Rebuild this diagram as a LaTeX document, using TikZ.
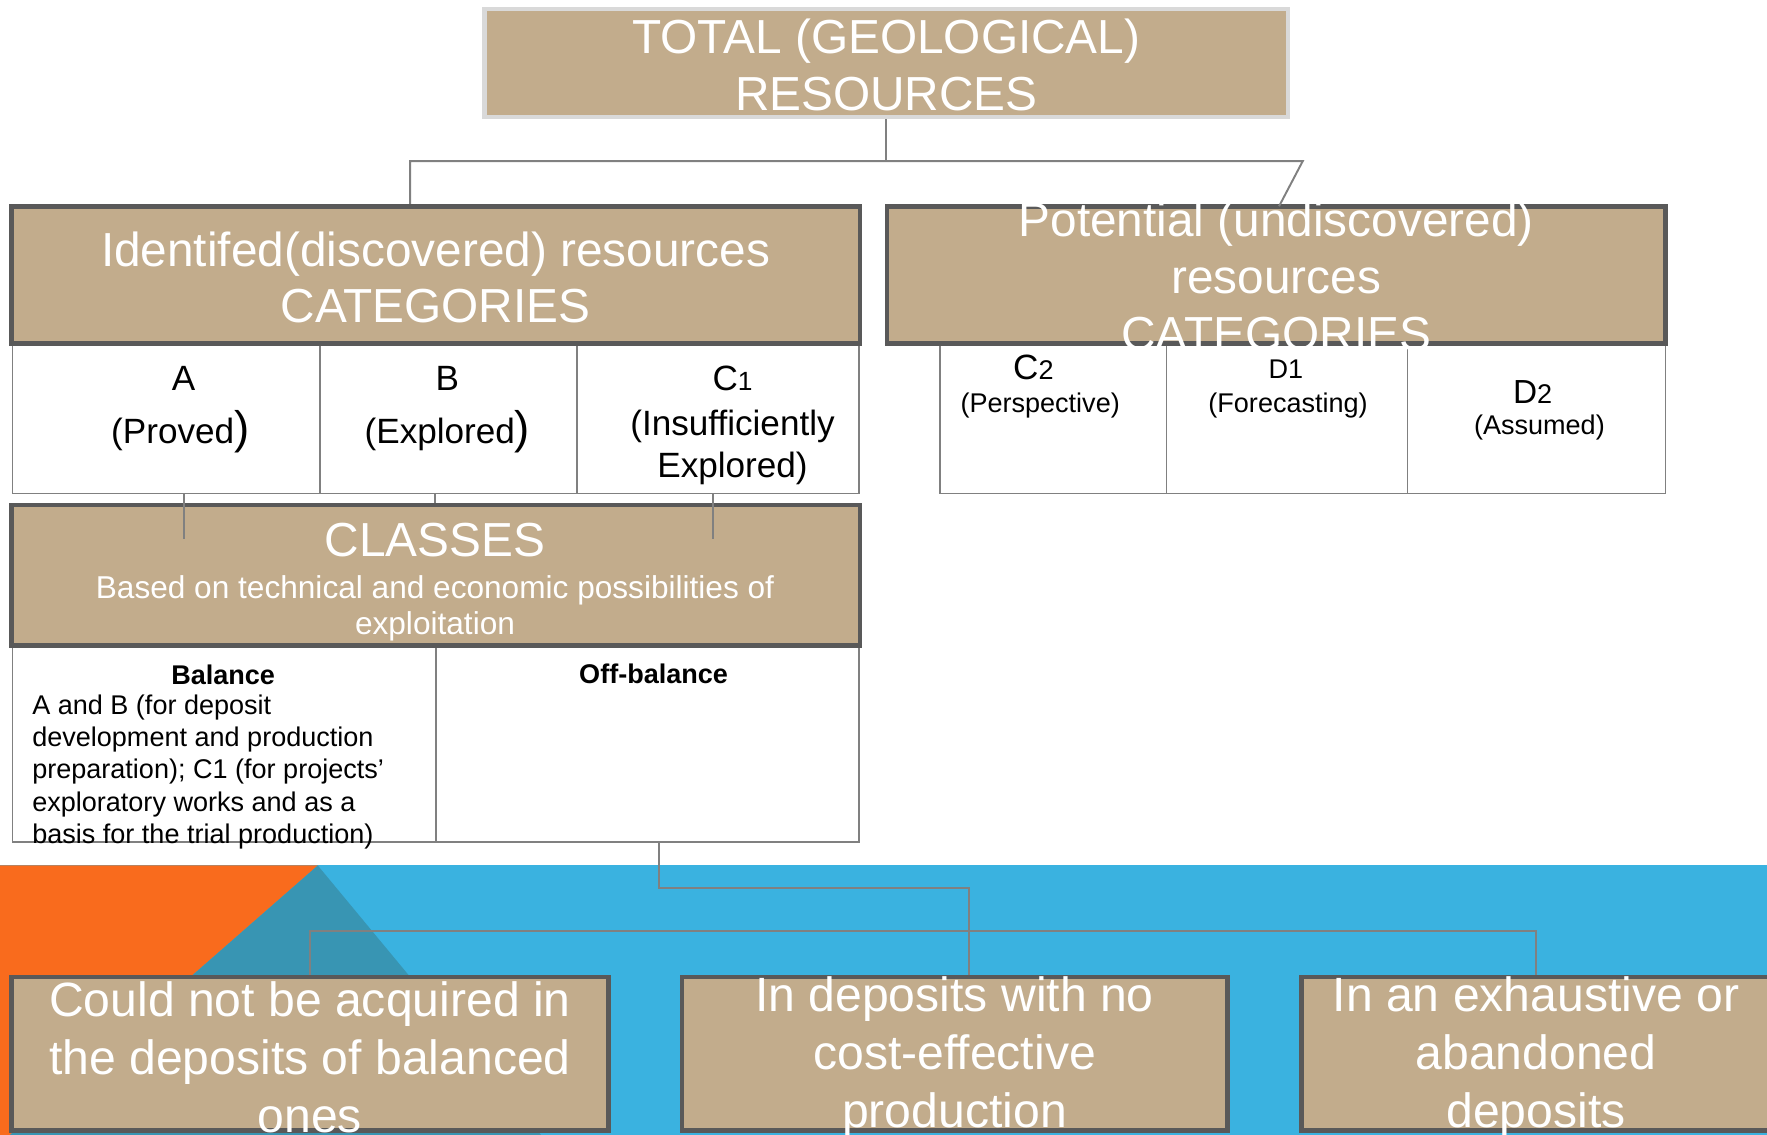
\documentclass[tikz,border=0pt]{standalone}
\usepackage{fontspec}
\setmainfont{Liberation Sans}
\usetikzlibrary{fit}
\definecolor{tanc}{HTML}{C2AC8C}
\definecolor{darkb}{HTML}{595959}
\definecolor{lightb}{HTML}{D9D9D9}
\definecolor{lineg}{HTML}{808080}
\definecolor{bluec}{HTML}{3AB2E0}
\definecolor{orangec}{HTML}{F96B1D}
\definecolor{tealc}{HTML}{3895B3}
\newcommand\fbig{\fontsize{13.6}{16.2}\selectfont}
\newcommand\fbot{\fontsize{13.7}{16.6}\selectfont}
\newcommand\fmid{\fontsize{10}{11.9}\selectfont}
\newcommand\fsub{\fontsize{9}{10.4}\selectfont}
\newcommand\fsm{\fontsize{7.7}{9.2}\selectfont}
\newcommand\fpar{\fontsize{13}{13}\selectfont}
\begin{document}
\begin{tikzpicture}[x=0.0112691cm, y=-0.0112691cm,
  tanbox/.style={draw=darkb, line width=1.3pt, fill=tanc, inner sep=0pt},
  topbox/.style={draw=lightb, line width=1.2pt, fill=tanc, inner sep=0pt},
  cell/.style={draw=lineg, line width=0.45pt, inner sep=0pt},
  conn/.style={draw=lineg, line width=0.55pt},
  bigt/.style={text=white, font=\fbig, align=center, inner sep=0pt},
  bott/.style={text=white, font=\fbot, align=center, inner sep=0pt},
  subt/.style={text=white, font=\fsub, align=center, inner sep=0pt},
  midt/.style={text=black, font=\fmid, align=center, inner sep=0pt},
  smt/.style={text=black, font=\fsm, align=center, inner sep=0pt}]
\useasboundingbox (0,0) rectangle (1568,1007);
% background
\fill[white] (0,0) rectangle (1568,768);
\fill[bluec] (0,768) rectangle (1568,1007);
\fill[orangec] (0,768) -- (282,768) -- (9,1007) -- (0,1007) -- cycle;
\fill[tealc] (282,768) -- (480,1007) -- (9,1007) -- cycle;
% tables
\node[cell, fit={(11,305) (284,438)}] (cellA) {};
\node[cell, fit={(284,305) (512,438)}] (cellB) {};
\node[cell, fit={(512,305) (762,438)}] (cellC) {};
\node[cell, fit={(834,305) (1035,438)}] (cellC2) {};
\node[cell, fit={(1035,305) (1249,438)}] (cellD1) {};
\node[cell, fit={(1249,305) (1478,438)}] (cellD2) {};
\node[cell, fit={(11,573) (387,747)}] (bal) {};
\node[cell, fit={(387,573) (762,747)}] (off) {};
% boxes
\node[topbox, fit={(430,8) (1143,104)}] (top) {};
\node[tanbox, fit={(10,183) (763,305)}] (id) {};
\node[tanbox, fit={(787,183) (1478,305)}] (pot) {};
\node[tanbox, fit={(10,448) (763,573)}] (cls) {};
\node[tanbox, fit={(10,867) (540,1003)}] (b1) {};
\node[tanbox, fit={(605,867) (1089,1003)}] (b2) {};
\node[tanbox, fit={(1155,867) (1571,1003)}] (b3) {};
% connectors
\coordinate (bl) at (364,143);
\coordinate (br) at (1156,143);
\coordinate (pin) at (1135,183);
\draw[conn] (top.south) -- (top.south |- bl);
\draw[conn] (bl |- id.north) -- (bl) -- (br) -- (pin);
\coordinate (jA) at (163,478);
\coordinate (jB) at (386,448);
\coordinate (jC) at (633,478);
\draw[conn] (jA |- cellA.south) -- (jA);
\draw[conn] (jB |- cellB.south) -- (jB |- cls.north);
\draw[conn] (jC |- cellC.south) -- (jC);
\coordinate (k1) at (585,788);
\coordinate (k2) at (860,788);
\draw[conn] (k1 |- off.south) -- (k1) -- (k2) -- (k2 |- b2.north);
\draw[conn] (b1.north) -- ++(0,-39) -| (b3.north);
% texts
\node[bigt] (topt) at ([yshift=-0.6pt]top.center) {TOTAL (GEOLOGICAL)\\RESOURCES};
\node[bigt] (idt) at ([yshift=-0.7pt]id.center) {Identifed(discovered) resources\\CATEGORIES};
\node[bigt] (pott) at ([yshift=-0.3pt]pot.center) {Potential (undiscovered)\\resources\\CATEGORIES};
\node[bigt] (clst) at (386,479) {CLASSES};
\node[subt] (clss) at (386,540) {Based on technical and economic possibilities of\\exploitation};
\node[bott] (b1t) at ([yshift=-1pt]b1.center) {Could not be acquired in\\the deposits of balanced\\ones};
\node[bott] (b2t) at ([yshift=-1pt]b2.center) {In deposits with no\\cost-effective\\production};
\node[bott] (b3t) at ([yshift=-1pt]b3.center) {In an exhaustive or\\abandoned\\deposits};
% left category texts
\node[midt] (ta) at (163,336) {A};
\node[midt] (tap) at (160,383) {(Proved{\fpar)}};
\node[midt] (tb) at (397,336) {B};
\node[midt] (tbp) at (397,383) {(Explored{\fpar)}};
\node[midt] (tc) at (650,336) {C{\fontsize{7.5}{8}\selectfont 1}};
\node[midt] (tcp) at (650,397) {(Insufficiently\\Explored)};
% right category texts
\node[smt] (tc2) at (917,326) {{\fmid C}2};
\node[smt] (tc2p) at (923,360) {(Perspective)};
\node[smt] (td1) at (1141,328) {D1};
\node[smt] (td1p) at (1143,360) {(Forecasting)};
\node[smt] (td2) at (1360,348) {{\fontsize{9.5}{10}\selectfont D}2};
\node[smt] (td2p) at (1366,379) {(Assumed)};
% class texts
\node[smt, font=\fsm\bfseries] (tbal) at (198,599) {Balance};
\node[smt, font=\fsm\bfseries] (toff) at (580,598) {Off-balance};
\node[smt, align=left, anchor=west] (tbalx) at (28,685) {A and B (for deposit\\development and production\\preparation); C1 (for projects’\\exploratory works and as a\\basis for the trial production)};
\end{tikzpicture}
\end{document}
